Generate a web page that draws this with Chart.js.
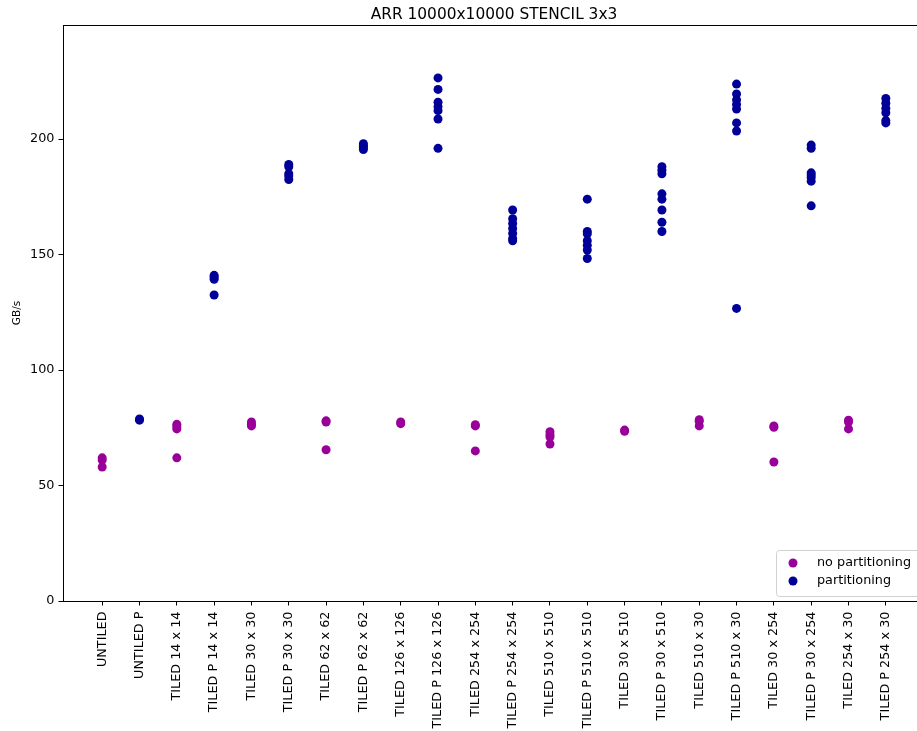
<!DOCTYPE html>
<html>
<head>
<meta charset="utf-8">
<title>ARR 10000x10000 STENCIL 3x3</title>
<script src="https://cdn.jsdelivr.net/npm/chart.js@4"></script>
<style>
  html, body { margin: 0; padding: 0; background: #fff; overflow: hidden; }
  canvas { display: block; }
</style>
</head>
<body>
<canvas id="chart" width="988" height="731"></canvas>
<script>
// categories along x
const categories = [
  'UNTILED', 'UNTILED P',
  'TILED 14 x 14', 'TILED P 14 x 14',
  'TILED 30 x 30', 'TILED P 30 x 30',
  'TILED 62 x 62', 'TILED P 62 x 62',
  'TILED 126 x 126', 'TILED P 126 x 126',
  'TILED 254 x 254', 'TILED P 254 x 254',
  'TILED 510 x 510', 'TILED P 510 x 510',
  'TILED 30 x 510', 'TILED P 30 x 510',
  'TILED 510 x 30', 'TILED P 510 x 30',
  'TILED 30 x 254', 'TILED P 30 x 254',
  'TILED 254 x 30', 'TILED P 254 x 30',
];

// GB/s runs, per category (index into categories)
const noPartIdx = [0, 2, 4, 6, 8, 10, 12, 14, 16, 18, 20];
const noPartRuns = [
  [62, 61, 58],
  [76.5, 75.5, 74.5, 62],
  [77.5, 76.5, 75.8],
  [78, 77.5, 65.5],
  [77.5, 76.8],
  [76.3, 75.8, 65],
  [73.3, 72, 71, 68],
  [74, 73.5],
  [78.5, 77.8, 75.8],
  [75.8, 75.2, 60.2],
  [78.3, 77.5, 74.5],
];

const partIdx = [1, 3, 5, 7, 9, 11, 13, 15, 17, 19, 21];
const partRuns = [
  [78.8, 78.3],
  [141, 140.2, 139.3, 132.5],
  [189, 188, 185, 184, 182.5],
  [198, 197.2, 196.5, 195.5],
  [226.5, 221.5, 216, 214, 212.3, 208.7, 196],
  [169.3, 165.5, 163.5, 161.3, 159.2, 157, 156],
  [174, 160, 159, 156, 154, 152, 148.3],
  [188, 186.5, 185, 176.3, 174, 169.3, 164, 160],
  [223.8, 219.5, 217, 215, 213, 207, 203.5, 126.7],
  [197.4, 196, 185.4, 184.5, 183.4, 181.8, 171.1],
  [217.6, 215.5, 213.3, 211.4, 208, 207],
];

const yTicks = [0, 50, 100, 150, 200];

const TITLE = 'ARR 10000x10000 STENCIL 3x3';

const COLORS = {
  noPart: '#990099',
  part: '#000099',
};

const FONT = 'DejaVu Sans';
const TICK_SIZE = 12.8;

function toPoints(idx, runs) {
  const pts = [];
  idx.forEach((x, i) => {
    runs[i].forEach((y) => pts.push({ x, y }));
  });
  return pts;
}

// box around the axes and a title centred over them
const frame = {
  id: 'frame',
  afterDraw(chart) {
    const { ctx, chartArea: a } = chart;
    ctx.save();
    ctx.strokeStyle = '#000';
    ctx.lineWidth = 1;
    ctx.strokeRect(a.left + 0.5, a.top + 0.5, a.right - a.left, a.bottom - a.top);
    ctx.fillStyle = '#000';
    ctx.font = `15.4px "${FONT}"`;
    ctx.textAlign = 'center';
    ctx.textBaseline = 'alphabetic';
    ctx.fillText(TITLE, (a.left + a.right) / 2, a.top - 6);
    ctx.restore();
  },
};

// legend in the lower right corner of the axes
const cornerLegend = {
  id: 'cornerLegend',
  afterDraw(chart) {
    const { ctx } = chart;
    const sets = chart.data.datasets;
    const x = 776, y = 550, w = 160, rowH = 18;
    ctx.save();
    ctx.fillStyle = 'rgba(255,255,255,0.8)';
    ctx.strokeStyle = '#d0d0d0';
    ctx.lineWidth = 1;
    ctx.beginPath();
    ctx.roundRect(x + 0.5, y + 0.5, w, 10 + rowH * sets.length, 3);
    ctx.fill();
    ctx.stroke();
    ctx.font = `${TICK_SIZE}px "${FONT}"`;
    ctx.textBaseline = 'middle';
    sets.forEach((ds, i) => {
      const cy = y + 13 + i * rowH;
      ctx.fillStyle = ds.backgroundColor;
      ctx.beginPath();
      ctx.arc(x + 17, cy, 4.5, 0, Math.PI * 2);
      ctx.fill();
      ctx.fillStyle = '#000';
      ctx.fillText(ds.label, x + 41, cy);
    });
    ctx.restore();
  },
};

const canvas = document.getElementById('chart');

new Chart(canvas.getContext('2d'), {
  type: 'scatter',
  data: {
    datasets: [
      {
        label: 'no partitioning',
        data: toPoints(noPartIdx, noPartRuns),
        backgroundColor: COLORS.noPart,
        borderColor: COLORS.noPart,
        pointRadius: 4.5,
        borderWidth: 0,
      },
      {
        label: 'partitioning',
        data: toPoints(partIdx, partRuns),
        backgroundColor: COLORS.part,
        borderColor: COLORS.part,
        pointRadius: 4.5,
        borderWidth: 0,
      },
    ],
  },
  options: {
    responsive: false,
    animation: false,
    layout: { padding: { left: 0, right: 63, top: 25, bottom: 0 } },
    plugins: {
      legend: { display: false },
      tooltip: { enabled: false },
      title: { display: false },
    },
    scales: {
      x: {
        type: 'linear',
        min: -1.05,
        max: 22.05,
        afterBuildTicks: (scale) => {
          scale.ticks = categories.map((_, i) => ({ value: i }));
        },
        afterFit: (scale) => { scale.height = 130; },
        grid: {
          display: true,
          drawOnChartArea: false,
          tickLength: 4.5,
          color: '#000',
        },
        border: { display: true, color: '#000' },
        ticks: {
          autoSkip: false,
          includeBounds: false,
          minRotation: 90,
          maxRotation: 90,
          padding: 6,
          color: '#000',
          font: { family: FONT, size: TICK_SIZE },
          callback: (v) => categories[v] ?? '',
        },
      },
      y: {
        min: 0,
        max: 249.4,
        afterBuildTicks: (scale) => {
          scale.ticks = yTicks.map((v) => ({ value: v }));
        },
        afterFit: (scale) => { scale.width = 63; },
        grid: {
          display: true,
          drawOnChartArea: false,
          tickLength: 4.5,
          color: '#000',
        },
        border: { display: true, color: '#000' },
        ticks: {
          padding: 4,
          color: '#000',
          font: { family: FONT, size: TICK_SIZE },
        },
        title: {
          display: true,
          text: 'GB/s',
          color: '#000',
          font: { family: FONT, size: 10.5 },
          padding: { top: 11, bottom: 0 },
        },
      },
    },
  },
  plugins: [frame, cornerLegend],
});
</script>
</body>
</html>
